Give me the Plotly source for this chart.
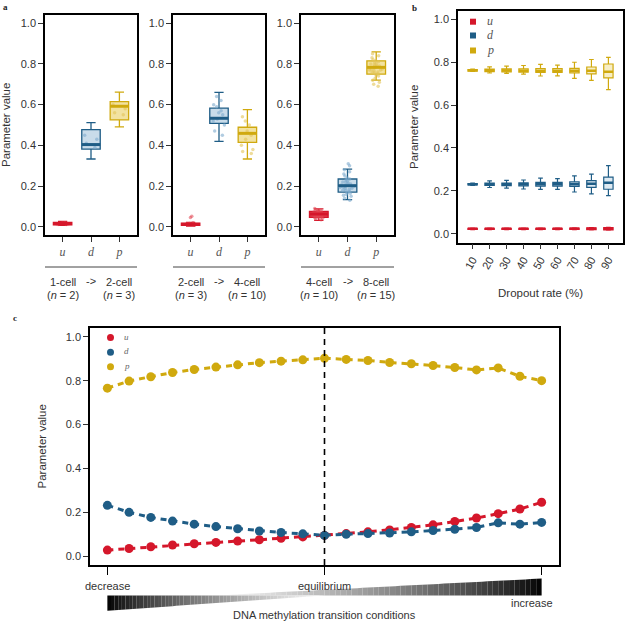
import plotly.graph_objects as go

W, H = 643, 622

# ---------------- data ----------------
params = ["u", "d", "p"]
main_col = {"u": "#d5172b", "d": "#1f5d86", "p": "#d0a90e"}
box_fill = {"u": "#e0404e", "d": "#c9dcea", "p": "#f2e2a0"}
pt_col = {"u": "rgba(226,70,82,0.55)", "d": "rgba(125,170,205,0.6)", "p": "rgba(226,196,88,0.6)"}

# Panel a: cell-stage transitions
trans_from = ["1-cell", "2-cell", "4-cell"]
trans_to = ["2-cell", "4-cell", "8-cell"]
n_from = [2, 3, 10]
n_to = [3, 10, 15]

# box statistics (order u, d, p)
a1_q1 = [0.010, 0.382, 0.525]
a1_med = [0.016, 0.404, 0.592]
a1_q3 = [0.022, 0.477, 0.615]
a1_lo = [0.007, 0.333, 0.491]
a1_hi = [0.027, 0.512, 0.661]

a2_q1 = [0.007, 0.508, 0.415]
a2_med = [0.012, 0.533, 0.459]
a2_q3 = [0.018, 0.583, 0.489]
a2_lo = [0.004, 0.420, 0.333]
a2_hi = [0.022, 0.660, 0.575]

a3_q1 = [0.047, 0.170, 0.750]
a3_med = [0.063, 0.202, 0.783]
a3_q3 = [0.076, 0.235, 0.815]
a3_lo = [0.032, 0.134, 0.720]
a3_hi = [0.088, 0.283, 0.859]

# individual estimates overlaid on the boxes
a1_pts_u = [0.012, 0.015, 0.018, 0.020, 0.014, 0.016, 0.011, 0.019]
a1_pts_d = [0.43, 0.41, 0.45, 0.39]
a1_pts_p = [0.56, 0.60, 0.55, 0.58]
a2_pts_u = [0.052, 0.046, 0.015, 0.010, 0.020, 0.012, 0.008, 0.016]
a2_pts_d = [0.64, 0.62, 0.60, 0.57, 0.55, 0.53, 0.52, 0.50, 0.47, 0.45, 0.56, 0.59]
a2_pts_p = [0.54, 0.50, 0.47, 0.45, 0.43, 0.40, 0.37, 0.36, 0.38, 0.52]
a3_pts_u = [0.035, 0.040, 0.045, 0.050, 0.055, 0.060, 0.065, 0.070, 0.075, 0.080,
            0.085, 0.090, 0.050, 0.060, 0.070, 0.062, 0.058, 0.068, 0.072, 0.048,
            0.052, 0.066, 0.078, 0.042, 0.082, 0.064, 0.056, 0.074, 0.061, 0.067]
a3_pts_d = [0.31, 0.30, 0.28, 0.27, 0.26, 0.25, 0.24, 0.235, 0.23, 0.225, 0.22, 0.215,
            0.21, 0.205, 0.20, 0.195, 0.19, 0.185, 0.18, 0.175, 0.17, 0.165, 0.16,
            0.155, 0.15, 0.14, 0.13, 0.20, 0.21, 0.19, 0.22, 0.18, 0.205, 0.195]
a3_pts_p = [0.85, 0.84, 0.83, 0.82, 0.815, 0.81, 0.805, 0.80, 0.795, 0.79, 0.785, 0.78,
            0.775, 0.77, 0.765, 0.76, 0.755, 0.75, 0.745, 0.74, 0.73, 0.72, 0.71, 0.70,
            0.69, 0.78, 0.79, 0.77, 0.80, 0.76, 0.785, 0.775]

# Panel b: dropout rates
dropout = [10, 20, 30, 40, 50, 60, 70, 80, 90]
b_u_q1 = [0.021, 0.021, 0.021, 0.021, 0.021, 0.021, 0.021, 0.020, 0.019]
b_u_med = [0.024, 0.024, 0.024, 0.024, 0.024, 0.024, 0.024, 0.024, 0.024]
b_u_q3 = [0.026, 0.026, 0.026, 0.026, 0.026, 0.026, 0.027, 0.028, 0.029]
b_u_lo = [0.020, 0.020, 0.020, 0.020, 0.020, 0.020, 0.020, 0.019, 0.018]
b_u_hi = [0.027, 0.027, 0.027, 0.027, 0.027, 0.027, 0.028, 0.029, 0.031]

b_d_q1 = [0.228, 0.226, 0.225, 0.224, 0.222, 0.222, 0.221, 0.217, 0.208]
b_d_med = [0.231, 0.231, 0.231, 0.231, 0.231, 0.231, 0.231, 0.233, 0.238]
b_d_q3 = [0.234, 0.236, 0.237, 0.238, 0.240, 0.240, 0.242, 0.248, 0.264]
b_d_lo = [0.226, 0.216, 0.213, 0.209, 0.207, 0.207, 0.195, 0.186, 0.178]
b_d_hi = [0.236, 0.247, 0.249, 0.251, 0.260, 0.257, 0.270, 0.278, 0.318]

b_p_q1 = [0.758, 0.755, 0.754, 0.753, 0.752, 0.752, 0.750, 0.745, 0.726]
b_p_med = [0.762, 0.761, 0.761, 0.760, 0.760, 0.760, 0.760, 0.760, 0.755]
b_p_q3 = [0.765, 0.767, 0.768, 0.768, 0.770, 0.770, 0.771, 0.777, 0.791]
b_p_lo = [0.757, 0.749, 0.747, 0.744, 0.735, 0.736, 0.724, 0.715, 0.672]
b_p_hi = [0.767, 0.778, 0.781, 0.784, 0.789, 0.786, 0.799, 0.812, 0.822]

# Panel c: DNA methylation transition conditions (index 10 = equilibrium)
c_labels = ["decrease", "equilibrium", "increase"]
c_u = [0.028, 0.035, 0.043, 0.051, 0.057, 0.063, 0.069, 0.075, 0.082, 0.088, 0.095,
       0.103, 0.111, 0.120, 0.131, 0.143, 0.158, 0.174, 0.194, 0.215, 0.246]
c_d = [0.232, 0.200, 0.177, 0.160, 0.146, 0.135, 0.125, 0.115, 0.108, 0.102, 0.095,
       0.100, 0.103, 0.106, 0.111, 0.117, 0.123, 0.131, 0.152, 0.146, 0.154]
c_p = [0.766, 0.798, 0.818, 0.837, 0.851, 0.862, 0.872, 0.882, 0.889, 0.895, 0.902,
       0.897, 0.892, 0.883, 0.877, 0.869, 0.860, 0.849, 0.858, 0.820, 0.800]

# ---------------- helpers ----------------
def px(x):
    return x / W


def py(y):
    return 1 - y / H


TXT = "#333333"
SANS = "Liberation Sans, Arial, sans-serif"
SERIF = "Liberation Serif, Times New Roman, serif"

fig = go.Figure()


def add_box(pos, q1, med, q3, lo, hi, key, ax, width, fill, lw=1.3, medw=3.0):
    xa, ya = ax
    fig.add_trace(go.Box(
        x=[pos], q1=[q1], median=[med], q3=[q3], lowerfence=[lo], upperfence=[hi],
        width=width, whiskerwidth=0.5, fillcolor=fill,
        line=dict(color=main_col[key], width=lw),
        boxpoints=False, xaxis=xa, yaxis=ya, showlegend=False, hoverinfo="skip"))
    fig.add_trace(go.Scatter(
        x=[pos - width / 2, pos + width / 2], y=[med, med], mode="lines",
        line=dict(color=main_col[key], width=medw), xaxis=xa, yaxis=ya,
        showlegend=False, hoverinfo="skip"))


def add_points(pos, vals, key, ax, width):
    xa, ya = ax
    fig.add_trace(go.Box(
        x=[pos] * len(vals), y=vals, boxpoints="all", jitter=0.9, pointpos=0,
        width=width, fillcolor="rgba(0,0,0,0)",
        line=dict(color="rgba(0,0,0,0)", width=0), whiskerwidth=0,
        marker=dict(color=pt_col[key], size=3.5),
        xaxis=xa, yaxis=ya, showlegend=False, hoverinfo="skip"))


# ---------------- panel a ----------------
a_stats = [
    (a1_q1, a1_med, a1_q3, a1_lo, a1_hi, [a1_pts_u, a1_pts_d, a1_pts_p]),
    (a2_q1, a2_med, a2_q3, a2_lo, a2_hi, [a2_pts_u, a2_pts_d, a2_pts_p]),
    (a3_q1, a3_med, a3_q3, a3_lo, a3_hi, [a3_pts_u, a3_pts_d, a3_pts_p]),
]
AW = 0.65
for k, (q1s, meds, q3s, los, his, pts) in enumerate(a_stats):
    sfx = "" if k == 0 else str(k + 1)
    ax = ("x" + sfx, "y" + sfx)
    for i, key in enumerate(params):
        pos = i + 1
        add_box(pos, q1s[i], meds[i], q3s[i], los[i], his[i], key, ax, AW, box_fill[key])
        add_points(pos, pts[i], key, ax, AW * 0.9)

# ---------------- panel b ----------------
BW = 0.55
b_sets = {
    "u": (b_u_q1, b_u_med, b_u_q3, b_u_lo, b_u_hi, main_col["u"]),
    "d": (b_d_q1, b_d_med, b_d_q3, b_d_lo, b_d_hi, "rgba(201,220,234,0.6)"),
    "p": (b_p_q1, b_p_med, b_p_q3, b_p_lo, b_p_hi, "rgba(242,226,160,0.6)"),
}
for key in params:
    q1s, meds, q3s, los, his, fill = b_sets[key]
    for i in range(len(dropout)):
        add_box(i + 1, q1s[i], meds[i], q3s[i], los[i], his[i], key, ("x4", "y4"),
                BW, fill, lw=1.2, medw=2.5)

# ---------------- panel c ----------------
c_x = list(range(len(c_u)))
for key, vals in zip(params, [c_u, c_d, c_p]):
    fig.add_trace(go.Scatter(
        x=c_x, y=vals, mode="lines+markers",
        line=dict(color=main_col[key], width=3, dash="6px,5px"),
        marker=dict(color=main_col[key], size=9),
        xaxis="x5", yaxis="y5", showlegend=False, hoverinfo="skip"))
eq_idx = c_x[len(c_x) // 2]

# ---------------- axes ----------------
def frame(**kw):
    d = dict(showline=True, mirror=True, linecolor="black", linewidth=1.5,
             showgrid=False, zeroline=False, ticks="outside", ticklen=5,
             tickwidth=1, tickcolor="#333",
             tickfont=dict(family=SANS, size=11, color=TXT))
    d.update(kw)
    return d


yticks = dict(range=[-0.04, 1.04], tickvals=[0, 0.2, 0.4, 0.6, 0.8, 1.0], tickformat=".1f")
a_xdom = [(45, 137), (173, 265), (301, 394)]
a_ydom = [py(235), py(15)]
layout = dict(width=W, height=H, margin=dict(l=0, r=0, t=0, b=0),
              plot_bgcolor="white", paper_bgcolor="white", showlegend=False,
              boxmode="overlay")
for k, (l, r) in enumerate(a_xdom):
    sfx = "" if k == 0 else str(k + 1)
    layout["xaxis" + sfx] = frame(
        domain=[px(l), px(r)], anchor="y" + sfx, range=[0.38, 3.62],
        tickvals=[1, 2, 3], ticktext=["<i>%s</i>" % p for p in params],
        tickfont=dict(family=SERIF, size=12, color="#555"))
    layout["yaxis" + sfx] = frame(domain=a_ydom, anchor="x" + sfx, **yticks)

layout["xaxis4"] = frame(domain=[px(458), px(623)], anchor="y4", range=[0.14, 9.86],
                         tickvals=list(range(1, len(dropout) + 1)),
                         ticktext=[str(v) for v in dropout], tickangle=-60)
layout["yaxis4"] = frame(domain=[py(242.5), py(10.5)], anchor="x4", **yticks)

C_TOP, C_BOT = 328, 565
layout["xaxis5"] = frame(domain=[px(90), px(559)], anchor="y5", range=[-0.8, 20.8],
                         tickvals=[0, eq_idx, c_x[-1]], showticklabels=False, ticklen=8,
                         tickcolor="black")
layout["yaxis5"] = frame(domain=[py(C_BOT), py(C_TOP)], anchor="x5", **yticks)
fig.update_layout(**layout)

# ---------------- annotations & shapes ----------------
ann = []
shapes = []


def text(x, y, s, size=11, xref="paper", color=TXT, family=SANS, xanchor="center",
         yanchor="middle", **kw):
    ann.append(dict(x=x, y=y, xref=xref, yref="paper", text=s, showarrow=False,
                    xanchor=xanchor, yanchor=yanchor,
                    font=dict(family=family, size=size, color=color), **kw))


# panel letters
text(px(5), py(7), "<b>a</b>", size=9, family=SERIF, color="#222")
text(px(414), py(8), "<b>b</b>", size=9, family=SERIF, color="#222")
text(px(15), py(318), "<b>c</b>", size=9, family=SERIF, color="#222")

# y titles
for xx, yy in [(6, 125), (414, 127), (41, (C_TOP + C_BOT) / 2)]:
    text(px(xx), py(yy), "Parameter value", size=11.5, textangle=-90)

# panel a transition labels
for k in range(3):
    sfx = "" if k == 0 else str(k + 1)
    xr = "x" + sfx
    shapes.append(dict(type="line", xref=xr + " domain", yref="paper", x0=0, x1=1,
                       y0=py(267), y1=py(267), line=dict(color="#444", width=1)))
    text(1, py(282), trans_from[k], xref=xr)
    text(2, py(281), "->", xref=xr)
    text(3, py(282), trans_to[k], xref=xr)
    text(1, py(295), "(<i>n</i> = %d)" % n_from[k], xref=xr)
    text(3, py(295), "(<i>n</i> = %d)" % n_to[k], xref=xr)

# panel b x title and legend
text(px(540), py(293), "Dropout rate (%)", size=11.5)
for i, key in enumerate(params):
    yc = [21.7, 35.5, 50.5][i]
    shapes.append(dict(type="rect", xref="paper", yref="paper", x0=px(470), x1=px(476),
                       y0=py(yc + 3), y1=py(yc - 3), fillcolor=main_col[key],
                       line=dict(width=0)))
    text(px(485), py(yc - 1), "<i>%s</i>" % key, size=12, family=SERIF, color="#555",
         xanchor="left")

# panel c legend
for i, key in enumerate(params):
    yc = [337.5, 352.3, 366.7][i]
    shapes.append(dict(type="circle", xref="paper", yref="paper", x0=px(107), x1=px(114),
                       y0=py(yc + 3.5), y1=py(yc - 3.5), fillcolor=main_col[key],
                       line=dict(width=0)))
    text(px(122), py(yc - 1), "<i>%s</i>" % key, size=9, family=SERIF, color="#666",
         xanchor="left")

# equilibrium dashed line
shapes.append(dict(type="line", xref="x5", yref="y5 domain", x0=eq_idx, x1=eq_idx,
                   y0=0, y1=1, line=dict(color="black", width=1.6, dash="6px,5px")))

# condition labels below panel c
s = 0.3385  # px per reference-zoom unit below the frame
y_dec = C_BOT + 62 * s
y_inc = C_BOT + 113 * s
y_dna = C_BOT + 147 * s
y_mid = C_BOT + 90 * s
y_lbot = C_BOT + 135 * s
y_rtop = C_BOT + 40 * s
text(0, py(y_dec), c_labels[0], xref="x5")
text(eq_idx, py(y_dec), c_labels[1], xref="x5")
text(c_x[-1] + 0.6, py(y_inc), c_labels[2], xref="x5", xanchor="right")
text(eq_idx, py(y_dna), "DNA methylation transition conditions", xref="x5")

# gradient wedges (decorative)
mid = py(y_mid)
n_seg = 60
last = c_x[-1]
for j in range(n_seg):
    t0 = j / n_seg
    t1 = (j + 1) / n_seg
    # left wedge: black at 'decrease', fading towards equilibrium, below the mid line
    xa0, xa1 = t0 * eq_idx, t1 * eq_idx
    b0 = py(y_lbot - (y_lbot - y_mid) * t0)
    b1 = py(y_lbot - (y_lbot - y_mid) * t1)
    g = int(255 * min(1, (t0 + t1) / 2) ** 0.8)
    shapes.append(dict(type="path", xref="x5", yref="paper",
                       path="M %f,%f L %f,%f L %f,%f L %f,%f Z" % (xa0, mid, xa1, mid, xa1, b1, xa0, b0),
                       fillcolor="rgb(%d,%d,%d)" % (g, g, g), line=dict(width=0)))
    # right wedge: light near the middle, black at 'increase', above the mid line
    start = eq_idx * 0.5
    xb0 = start + t0 * (last - start)
    xb1 = start + t1 * (last - start)
    u0 = py(y_mid - (y_mid - y_rtop) * t0)
    u1 = py(y_mid - (y_mid - y_rtop) * t1)
    g2 = int(255 * (1 - ((t0 + t1) / 2)) ** 0.8)
    shapes.append(dict(type="path", xref="x5", yref="paper",
                       path="M %f,%f L %f,%f L %f,%f L %f,%f Z" % (xb0, mid, xb1, mid, xb1, u1, xb0, u0),
                       fillcolor="rgb(%d,%d,%d)" % (g2, g2, g2), line=dict(width=0)))

fig.update_layout(annotations=ann, shapes=shapes)
fig.write_html("out.html")
